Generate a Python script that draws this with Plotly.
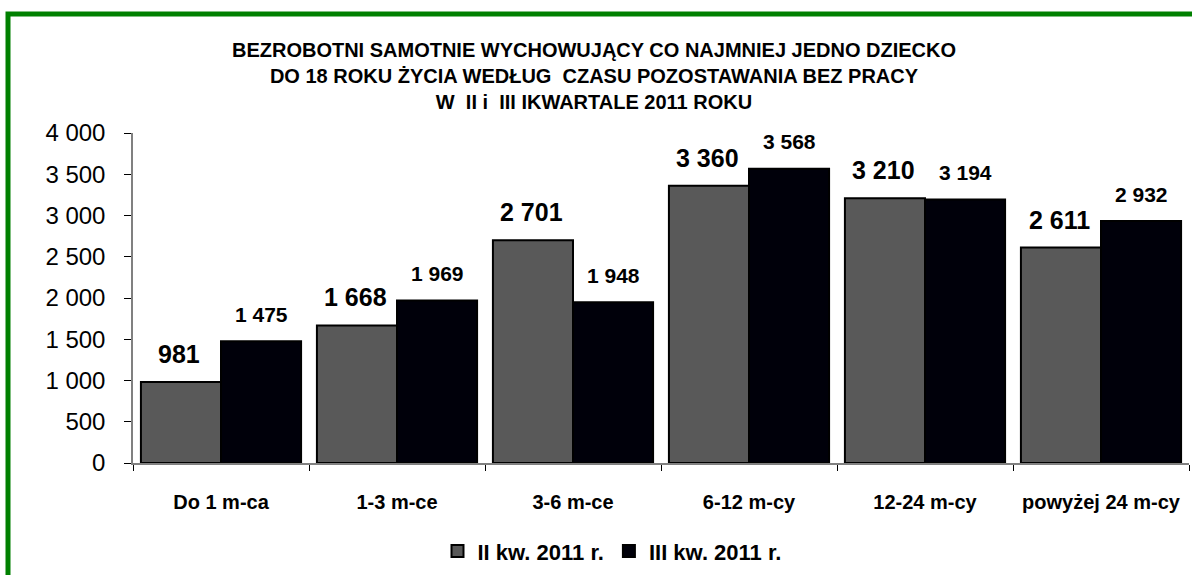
import plotly.graph_objects as go

categories = ["Do 1 m-ca", "1-3 m-ce", "3-6 m-ce", "6-12 m-cy", "12-24 m-cy", "powyżej 24 m-cy"]
q2_values = [981, 1668, 2701, 3360, 3210, 2611]
q3_values = [1475, 1969, 1948, 3568, 3194, 2932]
series_names = ["II kw. 2011 r.", "III kw. 2011 r."]
y_ticks = [0, 500, 1000, 1500, 2000, 2500, 3000, 3500, 4000]

FONT = "Arial, Liberation Sans, sans-serif"


def fmt(v):
    return f"{v:,}".replace(",", " ")


W, H = 1192, 575
L, R, T, B = 133, 3, 133, 109
pw = W - L - R
ph = H - T - B

fig = go.Figure()
fig.add_trace(go.Bar(
    x=categories, y=q2_values, name=f"<b>{series_names[0]}</b>",
    marker=dict(color="#595959", line=dict(color="#000000", width=2)),
))
fig.add_trace(go.Bar(
    x=categories, y=q3_values, name=f"<b>{series_names[1]}</b>",
    marker=dict(color="#00000a", line=dict(color="#000000", width=2)),
))

# data labels
for c, v in zip(categories, q2_values):
    fig.add_annotation(x=c, y=v, text=f"<b>{fmt(v)}</b>", showarrow=False,
                       xshift=-42, yshift=28, yanchor="middle",
                       font=dict(family=FONT, size=25, color="#000000"))
for c, v in zip(categories, q3_values):
    fig.add_annotation(x=c, y=v, text=f"<b>{fmt(v)}</b>", showarrow=False,
                       xshift=40, yshift=27, yanchor="middle",
                       font=dict(family=FONT, size=21, color="#000000"))


def px_x(p):
    return (p - L) / pw


def px_y(p):
    return (H - B - p) / ph


fig.add_shape(type="rect", xref="paper", yref="paper",
              x0=px_x(8), x1=px_x(1250), y0=px_y(640), y1=px_y(13),
              line=dict(color="#008000", width=5), fillcolor="rgba(0,0,0,0)", layer="below")

fig.update_layout(
    width=W, height=H,
    margin=dict(l=L, r=R, t=T, b=B),
    paper_bgcolor="white", plot_bgcolor="white",
    separators=", ",
    barmode="group", bargap=0.09, bargroupgap=0,
    font=dict(family=FONT, color="#000000"),
    title=dict(
        text="<b>BEZROBOTNI SAMOTNIE WYCHOWUJĄCY CO NAJMNIEJ JEDNO DZIECKO<br>"
             "DO 18 ROKU ŻYCIA WEDŁUG  CZASU POZOSTAWANIA BEZ PRACY<br>"
             "W  II i  III IKWARTALE 2011 ROKU</b>",
        x=594 / W, xanchor="center", xref="container",
        y=1 - 57 / H, yanchor="top", yref="container",
        font=dict(family=FONT, size=20, color="#000000"),
    ),
    xaxis=dict(
        tickmode="array", tickvals=categories,
        ticktext=[f"<b>{c}</b>" for c in categories],
        tickfont=dict(family=FONT, size=20, color="#000000"),
        ticks="outside", tickson="boundaries", ticklen=6, tickcolor="#000000",
        showline=True, linecolor="#808080", linewidth=1.5,
        showgrid=False, ticklabelstandoff=20,
    ),
    yaxis=dict(
        range=[0, 4000], tickvals=y_ticks, tickformat=",d",
        tickfont=dict(family=FONT, size=24, color="#000000"),
        ticks="outside", ticklen=7, tickcolor="#000000",
        showline=True, linecolor="#808080", linewidth=1.5,
        showgrid=False, zeroline=False, ticklabelstandoff=14,
    ),
    legend=dict(
        orientation="h", x=px_x(612), xanchor="center",
        y=px_y(555), yanchor="middle",
        font=dict(family=FONT, size=22, color="#000000"),
        traceorder="normal", itemwidth=30,
        bgcolor="rgba(0,0,0,0)",
    ),
    showlegend=True,
)

fig.write_html("out.html", config={"displayModeBar": False},
               post_script="document.body.style.margin='0px';")
